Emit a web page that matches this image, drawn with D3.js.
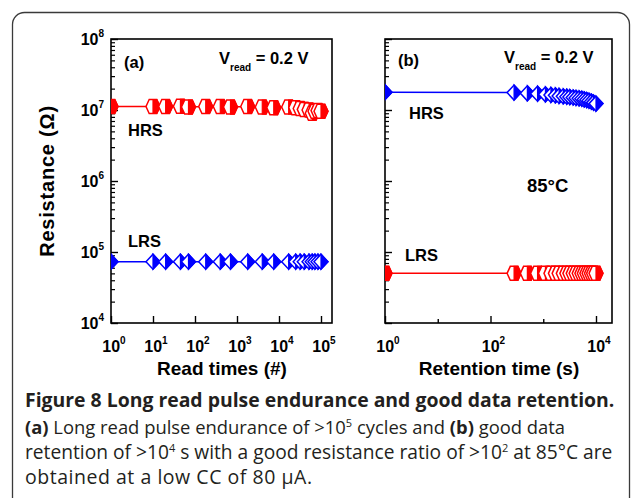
<!DOCTYPE html>
<html>
<head>
<meta charset="utf-8">
<script src="https://cdn.jsdelivr.net/npm/d3@7"></script>
<style>
body { margin: 0; background: #fff; }
svg { display: block; }
</style>
</head>
<body>
<div id="chart"></div>
<script>
// panel (a): read pulse endurance
var readTimes = [1, 10, 20, 45, 70, 180, 400, 700, 1800, 4000, 7500, 17000, 25000, 32000, 40000, 52000, 62000, 72000, 85000, 100000];
var readHRS = [1.12e7, 1.12e7, 1.12e7, 1.13e7, 1.1e7, 1.12e7, 1.12e7, 1.1e7, 1.12e7, 1.1e7, 1.08e7, 1.1e7, 1.08e7, 1.05e7, 1.02e7, 1.0e7, 9.0e6, 9.6e6, 9.8e6, 9.6e6];
var readLRS = [7.3e4, 7.3e4, 7.3e4, 7.3e4, 7.3e4, 7.3e4, 7.3e4, 7.3e4, 7.3e4, 7.3e4, 7.3e4, 7.3e4, 7.3e4, 7.3e4, 7.3e4, 7.3e4, 7.3e4, 7.3e4, 7.3e4, 7.3e4];

// panel (b): retention at 85C
var retTimes = [1, 280, 500, 780, 1100, 1400, 1700, 2000, 2400, 2800, 3200, 3700, 4200, 4800, 5400, 6000, 6700, 7400, 8200, 9000, 10000];
var retHRS = [1.78e7, 1.76e7, 1.72e7, 1.7e7, 1.66e7, 1.63e7, 1.61e7, 1.58e7, 1.56e7, 1.54e7, 1.52e7, 1.5e7, 1.48e7, 1.46e7, 1.44e7, 1.41e7, 1.38e7, 1.35e7, 1.31e7, 1.27e7, 1.23e7];
var retLRS = [5.0e4, 5.0e4, 5.0e4, 5.0e4, 5.0e4, 5.0e4, 5.0e4, 5.0e4, 5.0e4, 5.0e4, 5.0e4, 5.0e4, 5.0e4, 5.0e4, 5.0e4, 5.0e4, 5.0e4, 5.0e4, 5.0e4, 5.0e4, 5.0e4];

var yTickExps = [4, 5, 6, 7, 8];
var readTickExps = [0, 1, 2, 3, 4, 5];
var retTickExps = [0, 2, 4];
var retMinorExps = [1, 3];

var svgWidth = 633;
var svgHeight = 498;
var font = "'Liberation Sans', Arial, sans-serif";
var red = "#ff0000", blue = "#0000ff";

var svg = d3.select("#chart")
	.append("svg")
	.attr("width", svgWidth)
	.attr("height", svgHeight);

// rounded figure border
svg.append("rect")
	.attr("x", 12.5).attr("y", 12.5)
	.attr("width", 617).attr("height", 520)
	.attr("rx", 12)
	.attr("fill", "none")
	.attr("stroke", "#3a3a3a")
	.attr("stroke-width", 1.3);

var yTop = 39, yBot = 323;
var y = d3.scaleLog().domain([1e4, 1e8]).range([yBot, yTop]);

var xa = d3.scaleLog().domain([1, 1e5]).range([111, 321]);
var xb = d3.scaleLog().domain([1, 1e4]).range([385, 596]);

var yMinor = y.ticks().filter(function(v) {
	return Math.abs(Math.log10(v) - Math.round(Math.log10(v))) > 1e-6;
});

function sup(sel, base, exp, baseSize, expSize) {
	sel.append("tspan").text(base).attr("font-size", baseSize);
	sel.append("tspan").text(exp).attr("font-size", expSize).attr("dy", -baseSize * 0.5);
}

function drawPanel(x, left, right, id) {
	var g = svg.append("g");

	g.append("clipPath").attr("id", id)
		.append("rect")
		.attr("x", left).attr("y", yTop)
		.attr("width", right - left).attr("height", yBot - yTop);

	// y ticks (inward)
	g.append("g")
		.attr("transform", "translate(" + left + ",0)")
		.call(d3.axisLeft(y).tickValues(yTickExps.map(function(e) { return Math.pow(10, e); })).tickSize(-7).tickFormat(""))
		.call(function(s) { s.select(".domain").remove(); s.selectAll("line").attr("stroke-width", 1.4); });
	g.append("g")
		.attr("transform", "translate(" + left + ",0)")
		.call(d3.axisLeft(y).tickValues(yMinor).tickSize(-4).tickFormat(""))
		.call(function(s) { s.select(".domain").remove(); s.selectAll("line").attr("stroke-width", 1.2); });

	g.append("rect")
		.attr("x", left).attr("y", yTop)
		.attr("width", right - left).attr("height", yBot - yTop)
		.attr("fill", "none").attr("stroke", "#000").attr("stroke-width", 1.6);
	return g;
}

function halfMarker(g, shape, color) {
	var full, half;
	if (shape === "diamond") {
		full = "M-7,0L0,-7.5L7,0L0,7.5Z";
		half = "M0,-7.5L7,0L0,7.5Z";
	} else {
		full = "M-7,0L-3.8,-7L3.8,-7L7,0L3.8,7L-3.8,7Z";
		half = "M0,-7L3.8,-7L7,0L3.8,7L0,7Z";
	}
	g.append("path").attr("d", full).attr("fill", "#fff").attr("stroke", color).attr("stroke-width", 1.5);
	g.append("path").attr("d", half).attr("fill", color).attr("stroke", color).attr("stroke-width", 1.2);
}

function drawSeries(g, x, xs, ys, color, shape, clipId) {
	var pts = xs.map(function(t, i) { return [t, ys[i]]; });
	var sg = g.append("g").attr("clip-path", "url(#" + clipId + ")");
	sg.append("path")
		.datum(pts)
		.attr("fill", "none")
		.attr("stroke", color)
		.attr("stroke-width", 1.5)
		.attr("d", d3.line().x(function(d) { return x(d[0]); }).y(function(d) { return y(d[1]); }));
	sg.selectAll("g.mk")
		.data(pts)
		.enter()
		.append("g")
		.attr("class", "mk")
		.attr("transform", function(d) { return "translate(" + x(d[0]) + "," + y(d[1]) + ")"; })
		.each(function() { halfMarker(d3.select(this), shape, color); });
}

// ---------- panel (a) ----------
var ga = drawPanel(xa, 111, 332, "clipA");
ga.append("g")
	.attr("transform", "translate(0," + yBot + ")")
	.call(d3.axisBottom(xa).tickValues(readTickExps.map(function(e) { return Math.pow(10, e); })).tickSize(-7).tickFormat(""))
	.call(function(s) { s.select(".domain").remove(); s.selectAll("line").attr("stroke-width", 1.4); });

drawSeries(ga, xa, readTimes, readHRS, red, "hex", "clipA");
drawSeries(ga, xa, readTimes, readLRS, blue, "diamond", "clipA");

// y tick labels
yTickExps.forEach(function(e) {
	var t = svg.append("text")
		.attr("x", 104).attr("y", y(Math.pow(10, e)) + 6)
		.attr("text-anchor", "end")
		.attr("font-family", font).attr("font-weight", "bold").attr("fill", "#000");
	sup(t, "10", e, 16, 10);
});

readTickExps.forEach(function(e) {
	var t = svg.append("text")
		.attr("x", xa(Math.pow(10, e)) + 3).attr("y", yBot + 29)
		.attr("text-anchor", "middle")
		.attr("font-family", font).attr("font-weight", "bold").attr("fill", "#000");
	sup(t, "10", e, 16, 10);
});

// ---------- panel (b) ----------
var gb = drawPanel(xb, 385, 612, "clipB");
gb.append("g")
	.attr("transform", "translate(0," + yBot + ")")
	.call(d3.axisBottom(xb).tickValues(retTickExps.map(function(e) { return Math.pow(10, e); })).tickSize(-7).tickFormat(""))
	.call(function(s) { s.select(".domain").remove(); s.selectAll("line").attr("stroke-width", 1.4); });
gb.append("g")
	.attr("transform", "translate(0," + yBot + ")")
	.call(d3.axisBottom(xb).tickValues(retMinorExps.map(function(e) { return Math.pow(10, e); })).tickSize(-4).tickFormat(""))
	.call(function(s) { s.select(".domain").remove(); s.selectAll("line").attr("stroke-width", 1.4); });

drawSeries(gb, xb, retTimes, retHRS, blue, "diamond", "clipB");
drawSeries(gb, xb, retTimes, retLRS, red, "hex", "clipB");

retTickExps.forEach(function(e) {
	var t = svg.append("text")
		.attr("x", xb(Math.pow(10, e)) + 3).attr("y", yBot + 29)
		.attr("text-anchor", "middle")
		.attr("font-family", font).attr("font-weight", "bold").attr("fill", "#000");
	sup(t, "10", e, 16, 10);
});

// ---------- axis titles ----------
svg.append("text")
	.attr("transform", "translate(54," + ((yTop + yBot) / 2) + ") rotate(-90)")
	.attr("text-anchor", "middle")
	.attr("font-family", font).attr("font-weight", "bold").attr("font-size", 20)
	.attr("letter-spacing", 0.8)
	.text("Resistance (Ω)");

svg.append("text")
	.attr("x", 222).attr("y", 375)
	.attr("text-anchor", "middle")
	.attr("font-family", font).attr("font-weight", "bold").attr("font-size", 19)
	.text("Read times (#)");

svg.append("text")
	.attr("x", 499).attr("y", 375)
	.attr("text-anchor", "middle")
	.attr("font-family", font).attr("font-weight", "bold").attr("font-size", 19)
	.text("Retention time (s)");

// ---------- in-plot labels ----------
function label(x, yy, txt, size) {
	return svg.append("text")
		.attr("x", x).attr("y", yy)
		.attr("font-family", font).attr("font-weight", "bold").attr("font-size", size || 16.5)
		.attr("fill", "#000")
		.text(txt);
}
function vread(x, yy) {
	var t = svg.append("text")
		.attr("x", x).attr("y", yy)
		.attr("font-family", font).attr("font-weight", "bold").attr("font-size", 16.5);
	t.append("tspan").text("V");
	t.append("tspan").text("read").attr("font-size", 10).attr("dy", 7);
	t.append("tspan").text(" = 0.2 V").attr("dy", -7);
}

label(124, 68, "(a)");
vread(219, 64);
label(128, 136, "HRS");
label(128, 247, "LRS");

label(398, 66, "(b)");
vread(504, 63);
label(409, 119, "HRS");
label(527, 192, "85°C", 18.5);
label(405, 261, "LRS");

// ---------- caption ----------
var capFont = "'Open Sans', 'Noto Sans', sans-serif";
svg.append("text")
	.attr("x", 25).attr("y", 407)
	.attr("font-family", capFont).attr("font-weight", "bold").attr("font-size", 19.4)
	.attr("fill", "#231f20")
	.text("Figure 8 Long read pulse endurance and good data retention.");

var c1 = svg.append("text").attr("x", 25).attr("y", 434)
	.attr("font-family", capFont).attr("font-size", 18.4).attr("fill", "#231f20");
c1.append("tspan").text("(a)").attr("font-weight", "bold");
c1.append("tspan").text(" Long read pulse endurance of >10");
c1.append("tspan").text("5").attr("font-size", 11).attr("dy", -7);
c1.append("tspan").text(" cycles and ").attr("dy", 7);
c1.append("tspan").text("(b)").attr("font-weight", "bold");
c1.append("tspan").text(" good data");

var c2 = svg.append("text").attr("x", 25).attr("y", 459)
	.attr("font-family", capFont).attr("font-size", 19.2).attr("fill", "#231f20");
c2.append("tspan").text("retention of >10");
c2.append("tspan").text("4").attr("font-size", 11).attr("dy", -7);
c2.append("tspan").text(" s with a good resistance ratio of >10").attr("dy", 7);
c2.append("tspan").text("2").attr("font-size", 11).attr("dy", -7);
c2.append("tspan").text(" at 85°C are").attr("dy", 7);

svg.append("text").attr("x", 25).attr("y", 484)
	.attr("font-family", capFont).attr("font-size", 19.5).attr("fill", "#231f20")
	.attr("textLength", 287).attr("lengthAdjust", "spacing")
	.text("obtained at a low CC of 80 µA.");
</script>
</body>
</html>
